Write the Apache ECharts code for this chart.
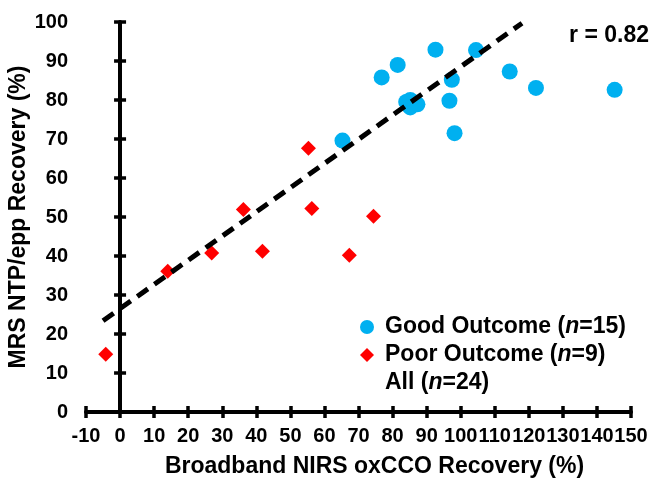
<!DOCTYPE html>
<html>
<head>
<meta charset="utf-8">
<script src="https://cdn.jsdelivr.net/npm/echarts@6/dist/echarts.min.js"></script>
<style>
html,body{margin:0;padding:0;background:#fff;}
#chart{width:652px;height:478px;}
</style>
</head>
<body>
<div id="chart"></div>
<script>
// Data
var goodX = [65.3, 76.8, 81.5, 92.6, 104.5, 97.4, 96.7, 98.2, 114.4, 122.1, 145.2, 84.0, 85.2, 87.3, 85.2];
var goodY = [69.6, 85.8, 89.0, 92.9, 92.8, 85.2, 79.8, 71.5, 87.3, 83.1, 82.6, 79.5, 80.0, 78.9, 78.1];
var poorX = [-4.2, 14.0, 26.9, 36.2, 41.8, 56.3, 67.3, 74.4, 55.3];
var poorY = [14.8, 36.1, 40.8, 51.9, 41.2, 52.2, 40.2, 50.2, 67.6];
var trendX = [-5, 118];
var trendY = [23.4, 99.7];
var seriesNames = ['Good Outcome', 'Poor Outcome', 'All'];
var seriesN = [15, 9, 24];
var corrText = 'r = 0.82';
var xTitle = 'Broadband NIRS oxCCO Recovery (%)';
var yTitle = 'MRS NTP/epp Recovery (%)';

function zip(a, b) { return a.map(function (v, i) { return [v, b[i]]; }); }

var FONT = 'Liberation Sans, Arial, sans-serif';
var chart = echarts.init(document.getElementById('chart'), null, {renderer: 'canvas'});

var xBase = {
  type: 'value', min: -10, max: 150, interval: 10, position: 'bottom',
  splitLine: {show: false}
};
var yBase = {
  type: 'value', min: 0, max: 100, interval: 10, position: 'left',
  splitLine: {show: false}
};

var option = {
  animation: false,
  backgroundColor: '#fff',
  grid: {left: 86, right: 21, top: 22, bottom: 66, containLabel: false, outerBoundsMode: 'none'},
  xAxis: [
    Object.assign({}, xBase, {
      name: xTitle, nameLocation: 'middle', nameGap: 43,
      nameTextStyle: {fontSize: 23, fontWeight: 'bold', color: '#000', fontFamily: FONT, padding: [0, 0, 0, 32]},
      axisLine: {show: true, onZero: true, onZeroAxisIndex: 0, lineStyle: {color: '#000', width: 4}},
      axisTick: {show: true, inside: false, length: 6, lineStyle: {color: '#000', width: 3.5}},
      axisLabel: {show: true, margin: 14, fontSize: 20, fontWeight: 'bold', color: '#000', fontFamily: FONT,
        hideOverlap: false, showMinLabel: true, showMaxLabel: true}
    }),
    Object.assign({}, xBase, {
      axisLine: {show: false, onZero: true, onZeroAxisIndex: 0},
      axisTick: {show: true, inside: true, length: 6, lineStyle: {color: '#000', width: 3.5}},
      axisLabel: {show: false}
    })
  ],
  yAxis: [
    Object.assign({}, yBase, {
      name: yTitle, nameLocation: 'middle', nameGap: 56, nameRotate: 90, nameMoveOverlap: false,
      nameTextStyle: {fontSize: 23, fontWeight: 'bold', color: '#000', fontFamily: FONT},
      axisLine: {show: true, onZero: true, onZeroAxisIndex: 0, lineStyle: {color: '#000', width: 4}},
      axisTick: {show: true, inside: false, length: 6, lineStyle: {color: '#000', width: 3.5}},
      axisLabel: {show: true, margin: 18, fontSize: 20, fontWeight: 'bold', color: '#000', fontFamily: FONT,
        hideOverlap: false, showMinLabel: true, showMaxLabel: true}
    }),
    Object.assign({}, yBase, {
      axisLine: {show: false, onZero: true, onZeroAxisIndex: 0},
      axisTick: {show: true, inside: true, length: 6, lineStyle: {color: '#000', width: 3.5}},
      axisLabel: {show: false}
    })
  ],
  legend: {
    orient: 'vertical', left: 355, top: 309,
    itemWidth: 14, itemHeight: 14, itemGap: 2,
    data: [
      {name: seriesNames[0], icon: 'circle'},
      {name: seriesNames[1], icon: 'diamond'},
      {name: seriesNames[2], icon: 'rect', itemStyle: {opacity: 0}, lineStyle: {opacity: 0}}
    ],
    formatter: function (name) {
      var i = seriesNames.indexOf(name);
      return name + ' ({i|n}=' + seriesN[i] + ')';
    },
    textStyle: {
      fontSize: 23, fontWeight: 'bold', color: '#000', fontFamily: FONT, lineHeight: 26,
      padding: [0, 0, 0, 6],
      rich: {i: {fontSize: 23, fontWeight: 'bold', fontStyle: 'italic', color: '#000', fontFamily: FONT, lineHeight: 26}}
    }
  },
  graphic: [{
    type: 'text', right: 3, top: 24,
    style: {text: corrText, fill: '#000', font: 'bold 23px ' + FONT}
  }],
  series: [
    {
      name: seriesNames[2], type: 'line', xAxisIndex: 0, yAxisIndex: 0,
      data: zip(trendX, trendY), showSymbol: false, symbol: 'none', z: 3,
      lineStyle: {color: '#000', width: 5, type: [13, 8], cap: 'butt'},
      itemStyle: {color: '#000'}
    },
    {
      name: seriesNames[0], type: 'scatter', xAxisIndex: 0, yAxisIndex: 0,
      data: zip(goodX, goodY), symbol: 'circle', symbolSize: 16, z: 2,
      itemStyle: {color: '#00B0F0', opacity: 1}
    },
    {
      name: seriesNames[1], type: 'scatter', xAxisIndex: 0, yAxisIndex: 0,
      data: zip(poorX, poorY), symbol: 'diamond', symbolSize: 15, z: 2,
      itemStyle: {color: '#FF0000', opacity: 1}
    }
  ]
};
chart.setOption(option);
</script>
</body>
</html>
